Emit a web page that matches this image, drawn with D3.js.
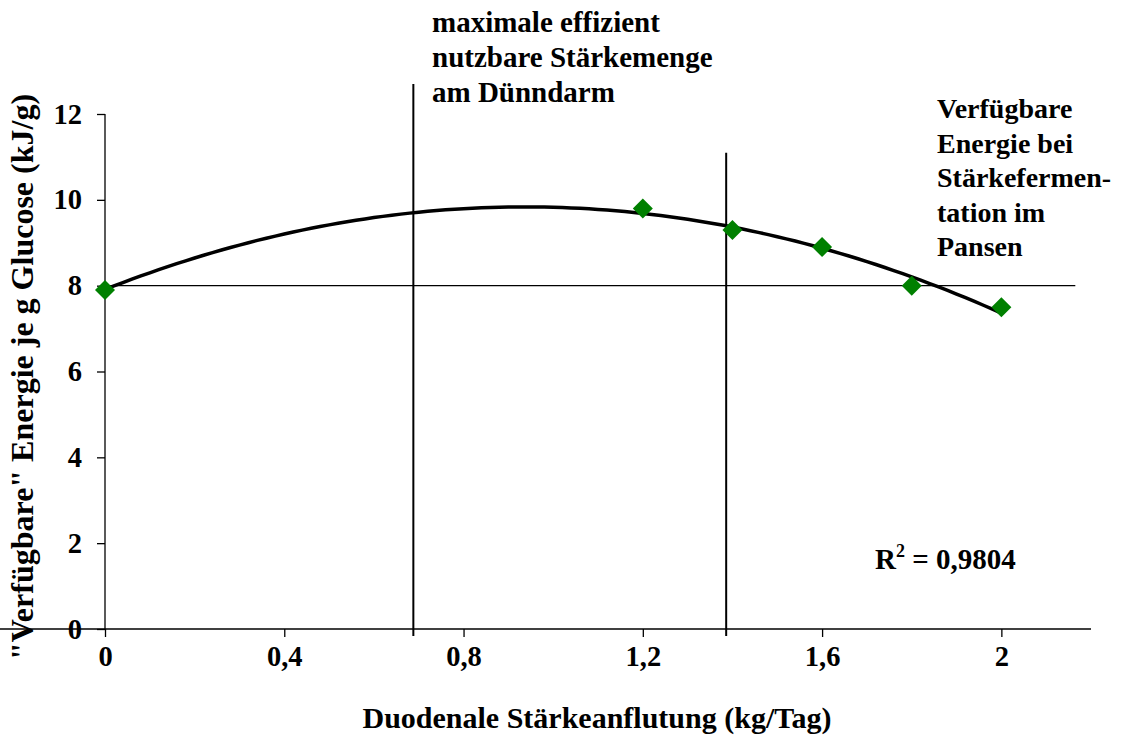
<!DOCTYPE html>
<html>
<head>
<meta charset="utf-8">
<script src="https://cdn.jsdelivr.net/npm/d3@7"></script>
<style>
  html, body { margin: 0; padding: 0; background: #fff; }
  text { font-family: "Liberation Serif", "Times New Roman", serif; font-weight: bold; fill: #000; }
</style>
</head>
<body>
<svg id="chart" width="1125" height="740"></svg>
<script>
// ---- data ----
const xValues = [0, 1.2, 1.4, 1.6, 1.8, 2.0];
const yValues = [7.9, 9.8, 9.3, 8.9, 8.0, 7.5];
const xTicks = [0, 0.4, 0.8, 1.2, 1.6, 2.0];
const yTicks = [0, 2, 4, 6, 8, 10, 12];
const refY = 8;                      // horizontal reference line
const refXs = [0.688, 1.386];        // vertical reference lines
const refXTops = [12.7, 11.1];       // how high the vertical lines reach
const refYEnd = 2.165;
const noteLeft = ["maximale effizient", "nutzbare Stärkemenge", "am Dünndarm"];
const noteRight = ["Verfügbare", "Energie bei", "Stärkefermen-", "tation im", "Pansen"];
const r2Text = "0,9804";
const xTitle = "Duodenale Stärkeanflutung (kg/Tag)";
const yTitle = "\"Verfügbare\" Energie je g Glucose (kJ/g)";

// ---- quadratic least-squares trendline from the data ----
function polyFit2(xs, ys) {
  let S = [0,0,0,0,0], T = [0,0,0];
  xs.forEach((x, i) => {
    for (let k = 0; k < 5; k++) S[k] += Math.pow(x, k);
    for (let k = 0; k < 3; k++) T[k] += ys[i] * Math.pow(x, k);
  });
  const M = [[S[0],S[1],S[2],T[0]],[S[1],S[2],S[3],T[1]],[S[2],S[3],S[4],T[2]]];
  for (let i = 0; i < 3; i++) {
    for (let j = i + 1; j < 3; j++) {
      const f = M[j][i] / M[i][i];
      for (let k = i; k < 4; k++) M[j][k] -= f * M[i][k];
    }
  }
  const c = [0,0,0];
  for (let i = 2; i >= 0; i--) {
    let s = M[i][3];
    for (let k = i + 1; k < 3; k++) s -= M[i][k] * c[k];
    c[i] = s / M[i][i];
  }
  return c;
}
const coef = polyFit2(xValues, yValues);
const trend = d3.range(0, 2.0001, 0.02).map(x => [x, coef[0] + coef[1]*x + coef[2]*x*x]);

// ---- layout ----
const svg = d3.select("#chart");
const x = d3.scaleLinear().domain([0, 2.2]).range([105, 1091]);
const y = d3.scaleLinear().domain([0, 12]).range([629, 114]);

svg.append("rect").attr("width", 1125).attr("height", 740).attr("fill", "#fff");

// axes
const xAxis = svg.append("g").attr("transform", `translate(0,${y(0)})`)
  .call(d3.axisBottom(x).tickValues(xTicks).tickSize(8).tickPadding(9)
    .tickFormat(d => d3.format("~g")(d).replace(".", ",")));
const yAxis = svg.append("g").attr("transform", `translate(${x(0)},0)`)
  .call(d3.axisLeft(y).tickValues(yTicks).tickSize(8).tickPadding(15));
[xAxis, yAxis].forEach(g => {
  g.select(".domain").attr("stroke", "#000").attr("stroke-width", 1.3);
  g.selectAll(".tick line").attr("stroke", "#000").attr("stroke-width", 1.3);
  g.selectAll(".tick text").attr("font-size", 28.5)
    .attr("font-family", "'Liberation Serif', 'Times New Roman', serif")
    .attr("font-weight", "bold").attr("fill", "#000");
});
yAxis.select(".domain").attr("d", `M0,${y(12)}V${y(0)}`);
xAxis.select(".domain").attr("d", `M0,0H${x(2.2)}`);

// reference lines
svg.append("line")
  .attr("x1", x(0)).attr("x2", x(refYEnd)).attr("y1", y(refY)).attr("y2", y(refY))
  .attr("stroke", "#000").attr("stroke-width", 1.2);
refXs.forEach((v, i) => {
  svg.append("line")
    .attr("x1", x(v)).attr("x2", x(v)).attr("y1", y(refXTops[i])).attr("y2", y(0) + 7)
    .attr("stroke", "#000").attr("stroke-width", 2);
});

// trendline
svg.append("path").datum(trend)
  .attr("d", d3.line().x(d => x(d[0])).y(d => y(d[1])))
  .attr("fill", "none").attr("stroke", "#000").attr("stroke-width", 3.5);

// markers
svg.append("g").selectAll("path").data(xValues.map((v, i) => [v, yValues[i]])).join("path")
  .attr("transform", d => `translate(${x(d[0])},${y(d[1])})`)
  .attr("d", "M0,-10L10,0L0,10L-10,0Z")
  .attr("fill", "#008000");

// axis titles
svg.append("text").attr("x", 597).attr("y", 728).attr("text-anchor", "middle")
  .attr("font-size", 30).text(xTitle);
svg.append("text").attr("transform", "translate(33,377) rotate(-90)").attr("text-anchor", "middle")
  .attr("font-size", 32).text(yTitle);

// annotations
svg.append("text").attr("x", 432).attr("y", 32).attr("font-size", 29)
  .selectAll("tspan").data(noteLeft).join("tspan")
  .attr("x", 432).attr("dy", (d, i) => i === 0 ? 0 : 35).text(d => d);
svg.append("text").attr("x", 937).attr("y", 118).attr("font-size", 28)
  .selectAll("tspan").data(noteRight).join("tspan")
  .attr("x", 937).attr("dy", (d, i) => i === 0 ? 0 : 34.5).text(d => d);

const r2 = svg.append("text").attr("x", 875).attr("y", 569).attr("font-size", 29);
r2.append("tspan").text("R");
r2.append("tspan").attr("font-size", 18).attr("dy", -12).text("2");
r2.append("tspan").attr("dy", 12).text(" = " + r2Text);
</script>
</body>
</html>
